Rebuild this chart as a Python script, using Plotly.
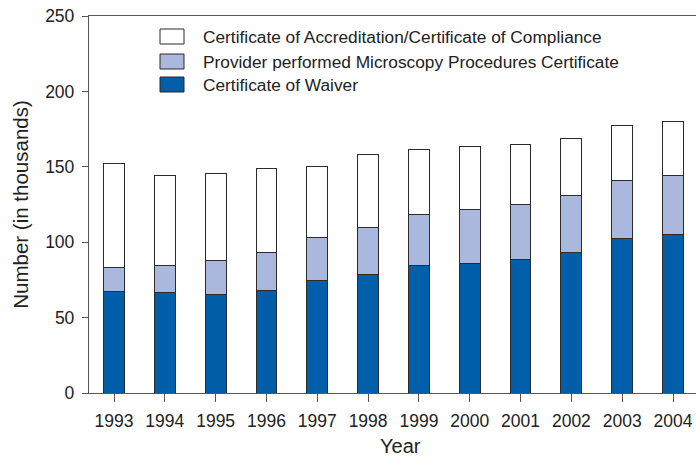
import plotly.graph_objects as go

years = ["1993", "1994", "1995", "1996", "1997", "1998", "1999", "2000", "2001", "2002", "2003", "2004"]
waiver = [67.1, 66.4, 65.1, 68.2, 74.4, 78.8, 84.3, 86.0, 88.5, 92.9, 102.2, 105.0]
ppm = [16.3, 17.9, 22.7, 25.1, 28.9, 30.8, 34.4, 35.8, 36.8, 37.9, 38.8, 39.1]
accred = [68.6, 59.8, 57.6, 55.7, 47.0, 48.4, 43.0, 41.9, 39.6, 37.8, 36.2, 36.0]

series_names = [
    "Certificate of Accreditation/Certificate of Compliance",
    "Provider performed Microscopy Procedures Certificate",
    "Certificate of Waiver",
]
series_colors = ["#FFFFFF", "#A9B8DC", "#005FA8"]
x_title = "Year"
y_title = "Number (in thousands)"

FONT = "Liberation Sans, Arial, Helvetica, sans-serif"
W, H = 696, 460
ML, MR, MT, MB = 89, 0, 16, 67
PW, PH = W - ML - MR, H - MT - MB

fig = go.Figure()
for vals, name, col in [(waiver, series_names[2], series_colors[2]),
                        (ppm, series_names[1], series_colors[1]),
                        (accred, series_names[0], series_colors[0])]:
    fig.add_trace(go.Bar(
        x=years, y=vals, name=name, width=0.41,
        marker=dict(color=col, line=dict(color="#2b2b2b", width=1)),
        showlegend=False,
    ))

def px_x(px):
    return (px - ML) / PW

def px_y(py):
    return (H - MB - py) / PH

# manual legend
rows = [(29, 44), (54, 69), (77, 92)]
shapes = []
annotations = []
for (y0, y1), name, col in zip(rows, series_names, series_colors):
    shapes.append(dict(type="rect", xref="paper", yref="paper",
                       x0=px_x(160), x1=px_x(184), y0=px_y(y1), y1=px_y(y0),
                       fillcolor=col, line=dict(color="#2b2b2b", width=1)))
    annotations.append(dict(xref="paper", yref="paper", x=px_x(201), y=px_y((y0 + y1) / 2),
                            text=name, showarrow=False, xanchor="left", yanchor="middle",
                            font=dict(family=FONT, size=17.3, color="#222")))

# x axis title placed below tick labels
annotations.append(dict(xref="paper", yref="paper", x=px_x(400), y=px_y(459),
                        text=x_title, showarrow=False, xanchor="center", yanchor="bottom",
                        font=dict(family=FONT, size=20, color="#222")))

fig.update_layout(
    width=W, height=H,
    margin=dict(l=ML, r=MR, t=MT, b=MB, pad=0),
    barmode="stack",
    plot_bgcolor="white", paper_bgcolor="white",
    font=dict(family=FONT, size=17, color="#222"),
    shapes=shapes, annotations=annotations,
    xaxis=dict(
        type="category", range=[-0.492, 11.452], automargin=False,
        showline=True, linecolor="#555", linewidth=1.3, mirror=True,
        ticks="outside", ticklen=8, tickcolor="#555", tickwidth=1.3,
        ticklabelstandoff=4,
        showgrid=False, zeroline=False,
        tickfont=dict(family=FONT, size=17.5, color="#222"),
    ),
    yaxis=dict(
        range=[0, 250], tickvals=[0, 50, 100, 150, 200, 250], automargin=False,
        showline=True, linecolor="#555", linewidth=1.3,
        ticks="outside", ticklen=6, tickcolor="#555", tickwidth=1.3,
        ticklabelstandoff=4,
        showgrid=False, zeroline=False,
        tickfont=dict(family=FONT, size=17.5, color="#222"),
        title=dict(text=y_title, font=dict(family=FONT, size=20.5, color="#222"), standoff=10),
    ),
)

# remove the browser's default 8px body margin so the figure sits at the window corner
fig.write_html(
    "out.html",
    config={"displayModeBar": False},
    post_script="document.body.style.margin='0';document.body.style.overflow='hidden';",
)
